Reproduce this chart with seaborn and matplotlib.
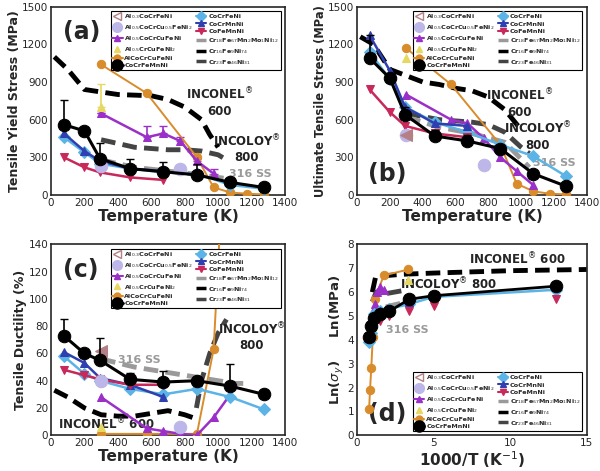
import numpy as np
import matplotlib
matplotlib.use("Agg")
import matplotlib.pyplot as plt
import seaborn as sns
from matplotlib.lines import Line2D

sns.set_style("white")
plt.rcParams["font.family"] = "DejaVu Sans"

# ---------------- data ----------------
T_full = [77, 200, 293, 473, 673, 873, 1073, 1273]
T_five = [77, 200, 293, 473, 673]
T_al05 = [298, 573, 673, 773, 873, 973, 1073]
T_alcu = [298, 573, 873, 973, 1073, 1173, 1273]

# (a) yield stress (MPa)
a_al03_T, a_al03 = [], []
a_cu05_T, a_cu05 = [298, 773], [230, 210]
a_al05 = [650, 460, 490, 430, 270, 170, None]
a_al05err = [0, 90, 60, 30, 20, 40, 0]
a_crcu_T, a_crcu, a_crcu_err = [298], [700], [180]
a_alcu = [1040, 810, 300, 60, 20, 10, 5]
a_mn = [560, 510, 290, 210, 185, 160, 100, 60]
a_mn_err = [200, 0, 120, 80, 80, 90, 0, 0]
a_fe = [460, 340, 250, 210, 180, 170, 80, 50]
a_crmn = [490, 350, 270, 210, 190]
a_femn = [300, 220, 180, 140, 120]
a_inc_T = [20, 100, 200, 300, 400, 600, 700, 800, 900, 950, 1000]
a_inc = [1100, 1000, 840, 820, 800, 790, 760, 700, 600, 480, 380]
a_ico_T = [300, 500, 700, 800, 900, 1000, 1050]
a_ico = [440, 380, 360, 360, 350, 320, 280]
a_ss_T = [300, 500, 700, 900, 1100]
a_ss = [280, 220, 190, 160, 120]

# (b) UTS (MPa)
b_al03_T, b_al03 = [298], [480]
b_cu05_T, b_cu05 = [298, 773], [480, 240]
b_al05 = [800, 600, 570, 450, 300, 190, 80]
b_crcu_T, b_crcu, b_crcu_err = [298], [1090], [0]
b_alcu = [1170, 880, 400, 90, 30, 10, 5]
b_mn = [1090, 930, 640, 470, 430, 370, 170, 70]
b_mn_err = [180, 0, 60, 50, 50, 0, 0, 0]
b_fe = [1140, 920, 700, 580, 500, 400, 310, 150]
b_crmn = [1270, 990, 700, 570, 550]
b_femn = [840, 660, 550, 490, 460]
b_inc_T = [20, 100, 200, 300, 400, 500, 600, 700, 800, 900, 950, 1000]
b_inc = [1260, 1200, 1000, 950, 900, 880, 850, 830, 780, 680, 600, 520]
b_ico_T = [300, 500, 700, 800, 900, 1000, 1050]
b_ico = [650, 600, 580, 560, 500, 380, 330]
b_ss_T = [300, 500, 700, 900, 1050]
b_ss = [620, 540, 490, 420, 220]

# (c) ductility (%)
c_al03_T, c_al03 = [298], [62]
c_cu05_T, c_cu05 = [298, 773], [40, 6]
c_al05 = [28, 5, 3, 1, 0, 13, 30]
c_crcu_T, c_crcu, c_crcu_err = [298], [6], [0]
c_alcu_T = [298, 573, 873, 973, 1010]
c_alcu = [1, 1, 1, 63, 150]
c_mn = [73, 60, 55, 41, 39, 40, 36, 30]
c_mn_err = [12, 0, 16, 5, 8, 0, 16, 0]
c_fe = [58, 45, 40, 34, 30, 34, 28, 19]
c_crmn = [61, 53, 42, 37, 28]
c_femn = [48, 44, 41, 37, 37]
c_inc_T = [20, 100, 200, 300, 400, 500, 600, 700, 800, 870]
c_inc = [33, 28, 20, 15, 14, 14, 16, 18, 15, 12]
c_ico_T = [870, 900, 950, 1000, 1050]
c_ico = [20, 40, 60, 75, 85]
c_ss_T = [300, 500, 700, 900, 1100, 1150]
c_ss = [56, 50, 46, 42, 38, 38]

# (d) ln(yield) vs 1000/T
d_x8 = [0.79, 0.93, 1.14, 1.49, 2.11, 3.41, 5.0, 13.0]
d_mn = [4.1, 4.6, 4.9, 5.1, 5.2, 5.7, 5.85, 6.25]
d_fe = [3.9, 4.3, 5.1, 5.2, 5.3, 5.5, 5.8, 6.1]
d_x5 = [1.49, 2.11, 3.41, 5.0, 13.0]
d_crmn = [5.2, 5.3, 5.6, 5.85, 6.2]
d_femn = [4.8, 5.0, 5.2, 5.4, 5.7]
d_alcu_x = [0.79, 0.85, 0.93, 1.03, 1.15, 1.75, 3.36]
d_alcu = [1.1, 1.9, 2.8, 4.1, 5.7, 6.7, 6.95]
d_al05_x = [1.03, 1.15, 1.3, 1.49, 1.75]
d_al05 = [5.2, 5.5, 6.0, 6.2, 6.1]
d_crcu_x, d_crcu = [3.36], [6.5]
d_inc_x = [1.0, 1.2, 1.5, 2, 3, 5, 10, 15]
d_inc = [6.0, 6.6, 6.7, 6.7, 6.75, 6.8, 6.9, 6.95]
d_ico_x = [1.0, 1.25, 1.5, 2.0, 3.3]
d_ico = [5.6, 6.0, 5.9, 5.95, 6.1]
d_ss_x = [0.9, 1.1, 1.5, 2.0, 3.3]
d_ss = [4.8, 5.1, 5.3, 5.4, 5.6]

names = [r"Al$_{0.3}$CoCrFeNi", r"Al$_{0.5}$CoCrCu$_{0.5}$FeNi$_2$", r"Al$_{0.5}$CoCrCuFeNi",
         r"Al$_{0.5}$CrCuFeNi$_2$", "AlCoCrCuFeNi", "CoCrFeMnNi",
         "CoCrFeNi", "CoCrMnNi", "CoFeMnNi",
         r"Cr$_{18}$Fe$_{67}$Mn$_2$Mo$_1$Ni$_{12}$", r"Cr$_{16}$Fe$_9$Ni$_{74}$", r"Cr$_{23}$Fe$_{46}$Ni$_{31}$"]
C = dict(al03="#b57f86", cu05="#bdb6e8", al05="#9b30c8", crcu="#e6d860", alcu="#d98c2b",
         mn="black", fe="#5bb4e5", crmn="#2f3fb0", femn="#c8285a", ss="#9a9a9a", inc="black", ico="#444444")

def series(ax, x, y, color, marker, ms=7, lw=1.8, err=None, line=True, mec=None, z=3):
    xs = [a for a, b in zip(x, y) if b is not None]
    ys = [b for b in y if b is not None]
    if not xs:
        return
    if err is not None:
        es = [e for e, b in zip(err, y) if b is not None]
        ax.errorbar(xs, ys, yerr=[np.zeros(len(es)), es], fmt="none", ecolor=color, capsize=3, lw=1.2, zorder=z)
    sns.lineplot(x=xs, y=ys, ax=ax, color=color, marker=marker, markersize=ms, lw=lw if line else 0,
                 markeredgecolor=mec or color, sort=False, estimator=None, zorder=z + 1)

def dash(ax, x, y, color, lw=3.5):
    sns.lineplot(x=x, y=y, ax=ax, color=color, lw=lw, sort=False, estimator=None, zorder=2)
    ax.lines[-1].set_dashes([3, 1.5])

handles = [
    Line2D([], [], color=C["al03"], marker="<", ms=6, lw=0, markerfacecolor="white"),
    Line2D([], [], color=C["cu05"], marker="o", ms=7, lw=0),
    Line2D([], [], color=C["al05"], marker="^", ms=5, lw=1.5),
    Line2D([], [], color=C["crcu"], marker="^", ms=5, lw=0),
    Line2D([], [], color=C["alcu"], marker="o", ms=5, lw=1.5),
    Line2D([], [], color="black", marker="o", ms=8, lw=2),
    Line2D([], [], color=C["fe"], marker="D", ms=5, lw=1.5),
    Line2D([], [], color=C["crmn"], marker="^", ms=5, lw=1.5),
    Line2D([], [], color=C["femn"], marker="v", ms=5, lw=1.5),
    Line2D([], [], color=C["ss"], lw=2.5, ls=(0, (3, 1.5))),
    Line2D([], [], color="black", lw=2.5, ls=(0, (3, 1.5))),
    Line2D([], [], color=C["ico"], lw=2.5, ls=(0, (3, 1.5))),
]

fig = plt.figure(figsize=(6, 4.71), dpi=100)
axa = fig.add_axes([0.085, 0.586, 0.39, 0.40])
axb = fig.add_axes([0.595, 0.586, 0.383, 0.40])
axc = fig.add_axes([0.085, 0.076, 0.39, 0.405])
axd = fig.add_axes([0.595, 0.076, 0.383, 0.405])

def temp_panel(ax, al03T, al03, cu05T, cu05, al05, al05e, crcuT, crcu, crcue, alcuT, alcu, mn, mne, fe, crmn, femn,
               incT, inc, icoT, ico, ssT, ss):
    dash(ax, incT, inc, C["inc"])
    dash(ax, icoT, ico, C["ico"])
    dash(ax, ssT, ss, C["ss"])
    series(ax, alcuT, alcu, C["alcu"], "o", ms=6, lw=1.4)
    series(ax, T_al05[:len(al05)], al05, C["al05"], "^", ms=6, err=al05e)
    series(ax, T_full, fe, C["fe"], "D", ms=6)
    series(ax, T_five, crmn, C["crmn"], "^", ms=6)
    series(ax, T_five, femn, C["femn"], "v", ms=6)
    series(ax, T_full, mn, "black", "o", ms=9, lw=2.2, err=mne, z=5)
    series(ax, cu05T, cu05, C["cu05"], "o", ms=9, line=False)
    series(ax, al03T, al03, C["al03"], "<", ms=8, line=False)
    series(ax, crcuT, crcu, C["crcu"], "^", ms=6, line=False, err=crcue)
    ax.set_xlim(0, 1400)
    ax.set_xticks(range(0, 1401, 200))
    ax.set_xlabel("Temperature (K)", fontsize=11, fontweight="bold", labelpad=1)
    for s in ax.spines.values():
        s.set_linewidth(1.2)
    ax.tick_params(labelsize=7.5, length=3, direction="in", pad=2)

temp_panel(axa, a_al03_T, a_al03, a_cu05_T, a_cu05, a_al05, a_al05err, a_crcu_T, a_crcu, a_crcu_err,
           T_alcu, a_alcu, a_mn, a_mn_err, a_fe, a_crmn, a_femn, a_inc_T, a_inc, a_ico_T, a_ico, a_ss_T, a_ss)
axa.set_ylim(0, 1500); axa.set_yticks(range(0, 1501, 300))
axa.set_ylabel("Tensile Yield Stress (MPa)", fontsize=9, fontweight="bold", labelpad=1)
axa.text(0.05, 0.93, "(a)", transform=axa.transAxes, fontsize=17, fontweight="bold", va="top")
axa.text(1010, 640, "INCONEL$^{®}$\n600", fontsize=8.5, fontweight="bold", ha="center")
axa.text(1170, 270, "INCOLOY$^{®}$\n800", fontsize=8.5, fontweight="bold", ha="center", color="#222222")
axa.text(1190, 145, "316 SS", fontsize=8, fontweight="bold", ha="center", color=C["ss"])

temp_panel(axb, b_al03_T, b_al03, b_cu05_T, b_cu05, b_al05, None, b_crcu_T, b_crcu, None,
           T_alcu, b_alcu, b_mn, b_mn_err, b_fe, b_crmn, b_femn, b_inc_T, b_inc, b_ico_T, b_ico, b_ss_T, b_ss)
axb.set_ylim(0, 1500); axb.set_yticks(range(0, 1501, 300))
axb.set_ylabel("Ultimate Tensile Stress (MPa)", fontsize=8.3, fontweight="bold", labelpad=1)
axb.text(0.05, 0.05, "(b)", transform=axb.transAxes, fontsize=17, fontweight="bold", va="bottom")
axb.text(990, 630, "INCONEL$^{®}$\n600", fontsize=8.5, fontweight="bold", ha="center")
axb.text(1100, 370, "INCOLOY$^{®}$\n800", fontsize=8.5, fontweight="bold", ha="center", color="#222222")
axb.text(1200, 230, "316 SS", fontsize=8, fontweight="bold", ha="center", color=C["ss"])

temp_panel(axc, c_al03_T, c_al03, c_cu05_T, c_cu05, c_al05, None, c_crcu_T, c_crcu, None,
           c_alcu_T, c_alcu, c_mn, c_mn_err, c_fe, c_crmn, c_femn, c_inc_T, c_inc, c_ico_T, c_ico, c_ss_T, c_ss)
axc.set_ylim(0, 140); axc.set_yticks(range(0, 141, 20))
axc.set_ylabel("Tensile Ductility (%)", fontsize=9, fontweight="bold", labelpad=1)
axc.text(0.05, 0.93, "(c)", transform=axc.transAxes, fontsize=17, fontweight="bold", va="top")
axc.text(40, 4, "INCONEL$^{®}$ 600", fontsize=8.5, fontweight="bold", ha="left")
axc.text(1200, 63, "INCOLOY$^{®}$\n800", fontsize=8.5, fontweight="bold", ha="center", color="#222222")
axc.text(530, 53, "316 SS", fontsize=8, fontweight="bold", ha="center", color=C["ss"])

# (d)
dash(axd, d_inc_x, d_inc, C["inc"])
dash(axd, d_ico_x, d_ico, C["ico"])
dash(axd, d_ss_x, d_ss, C["ss"])
series(axd, d_alcu_x, d_alcu, C["alcu"], "o", ms=6, lw=1.4)
series(axd, d_al05_x, d_al05, C["al05"], "^", ms=6, line=False)
series(axd, d_x8, d_fe, C["fe"], "D", ms=6)
series(axd, d_x5, d_crmn, C["crmn"], "^", ms=6, line=False)
series(axd, d_x5, d_femn, C["femn"], "v", ms=6, line=False)
series(axd, d_x8, d_mn, "black", "o", ms=9, lw=2, z=5)
series(axd, d_crcu_x, d_crcu, C["crcu"], "^", ms=6, line=False)
axd.set_xlim(0, 15); axd.set_xticks([0, 5, 10, 15])
axd.set_ylim(0, 8); axd.set_yticks(range(0, 9))
axd.set_xlabel("1000/T (K$^{-1}$)", fontsize=11, fontweight="bold", labelpad=1)
axd.set_ylabel(r"Ln($\sigma_y$)     Ln(MPa)", fontsize=9.5, fontweight="bold", labelpad=1)
axd.tick_params(labelsize=7.5, length=3, direction="in", pad=2)
for s in axd.spines.values():
    s.set_linewidth(1.2)
axd.text(0.05, 0.05, "(d)", transform=axd.transAxes, fontsize=17, fontweight="bold", va="bottom")
axd.text(10.5, 7.15, "INCONEL$^{®}$ 600", fontsize=8.5, fontweight="bold", ha="center")
axd.text(6.0, 6.1, "INCOLOY$^{®}$ 800", fontsize=8.5, fontweight="bold", ha="center", color="#222222")
axd.text(3.3, 4.3, "316 SS", fontsize=8, fontweight="bold", ha="center", color=C["ss"])

for ax, loc, bb in [(axa, "upper right", (0.995, 0.995)), (axb, "upper right", (0.995, 0.995)),
                    (axc, "upper right", (0.995, 0.995)), (axd, "lower right", (0.995, 0.005))]:
    leg = ax.legend(handles, names, ncol=2, loc=loc, bbox_to_anchor=bb, fontsize=4.6, frameon=True,
                    fancybox=False, edgecolor="black", handlelength=1.6, handletextpad=0.3,
                    columnspacing=0.5, labelspacing=0.3, borderpad=0.25, framealpha=1)
    leg.get_frame().set_linewidth(0.8)
    for t in leg.get_texts():
        t.set_fontweight("bold")

fig.savefig("out.png", dpi=100)
